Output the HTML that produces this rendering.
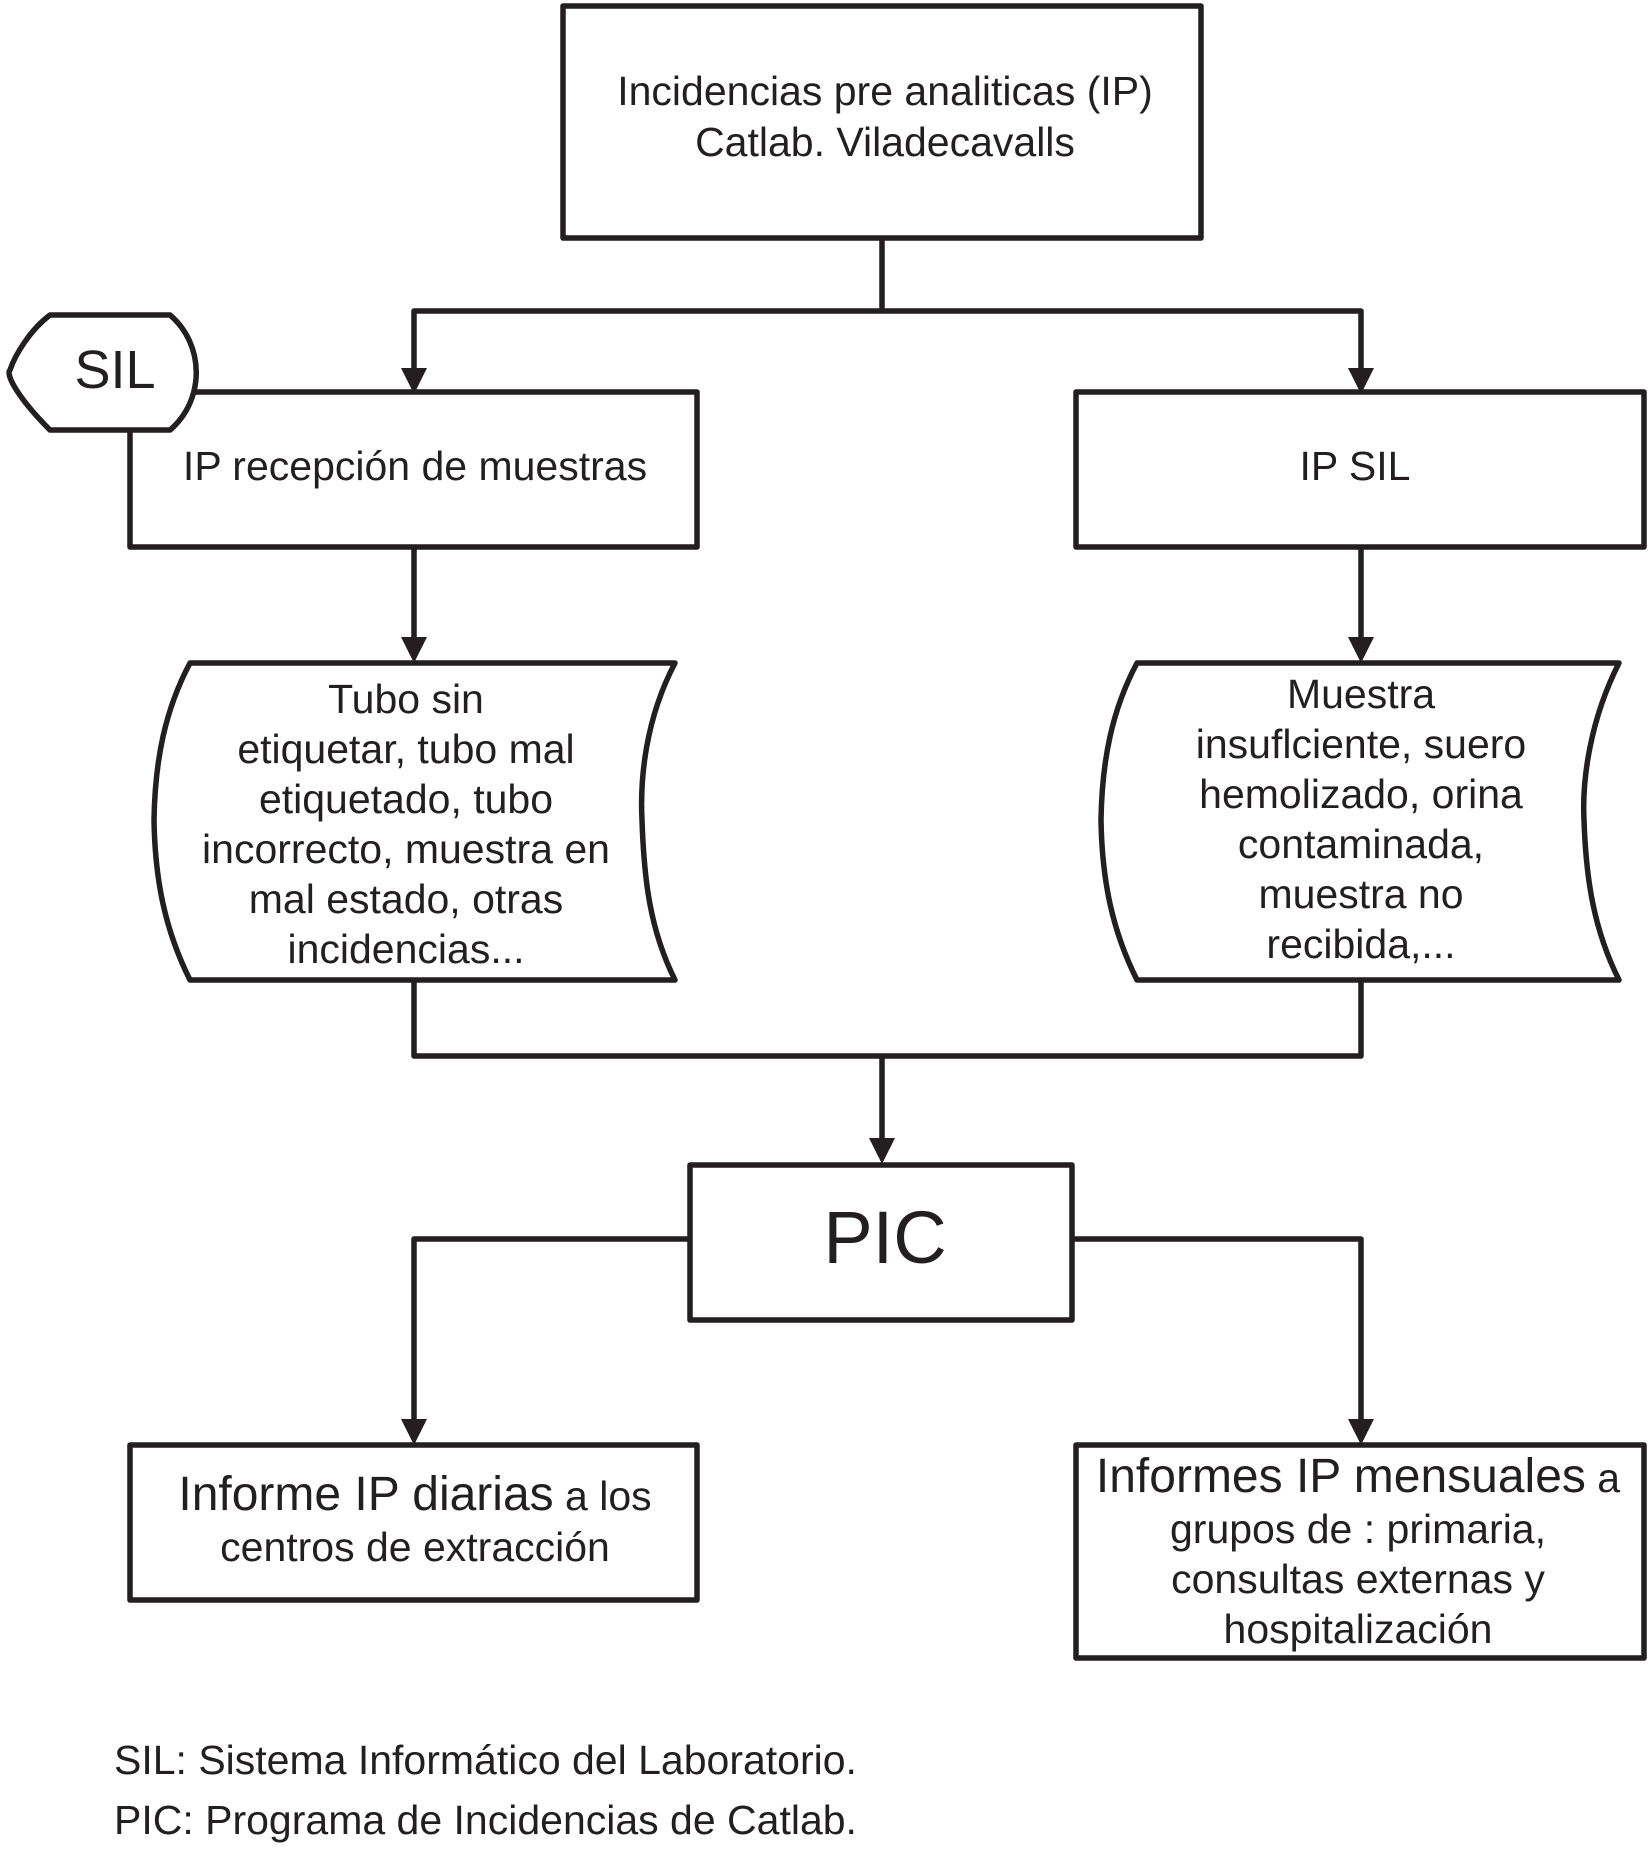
<!DOCTYPE html>
<html><head><meta charset="utf-8"><style>
html,body{margin:0;padding:0;background:#fff;}
svg{display:block;}
text{font-family:"Liberation Sans",Arial,sans-serif;fill:#231f20;}
</style></head><body>
<svg width="1650" height="1855" viewBox="0 0 1650 1855" xmlns="http://www.w3.org/2000/svg">
<g fill="none" stroke="#231f20" stroke-width="5.5" stroke-linejoin="round">
<rect x="563" y="6" width="638" height="232"/>
<rect x="130" y="392" width="567" height="155"/>
<rect x="1076" y="392" width="568" height="155"/>
<rect x="690" y="1165" width="382" height="155"/>
<rect x="130" y="1445" width="567" height="155"/>
<rect x="1076" y="1445" width="568" height="213"/>
<polyline points="882,238 882,311"/>
<polyline points="414,371 414,311 1361,311 1361,371"/>
<line x1="414" y1="547" x2="414" y2="640"/>
<line x1="1361" y1="547" x2="1361" y2="640"/>
<polyline points="414,980 414,1056 1361,1056 1361,980"/>
<line x1="882" y1="1056" x2="882" y2="1143"/>
<polyline points="690,1239 414,1239 414,1424"/>
<polyline points="1072,1239 1361,1239 1361,1424"/>
<path d="M190,663 L675,663 C645,720 640,780 642,820 C644,880 650,930 675,980 L190,980 C165,930 155,880 154,820 C155,760 165,710 190,663 Z"/>
<path d="M1137,663 L1619,663 C1590,720 1582,780 1584,820 C1586,880 1594,930 1619,980 L1137,980 C1112,930 1102,880 1101,820 C1102,760 1112,710 1137,663 Z"/>
<path d="M50,315 L170,315 C205,345 205,400 170,430 L50,430 C20,400 5,375 10,370 C15,355 30,330 50,315 Z" fill="#fff"/>
</g>
<g fill="#231f20">
<polygon points="401,368 427,368 414,394"/>
<polygon points="1348,368 1374,368 1361,394"/>
<polygon points="401,637 427,637 414,663"/>
<polygon points="1348,637 1374,637 1361,663"/>
<polygon points="869,1138 895,1138 882,1164"/>
<polygon points="401,1419 427,1419 414,1445"/>
<polygon points="1348,1419 1374,1419 1361,1445"/>
</g>
<g font-size="41" text-anchor="middle">
<text x="885" y="105">Incidencias pre analiticas (IP)</text>
<text x="885" y="156">Catlab. Viladecavalls</text>
<text x="115" y="388" font-size="54">SIL</text>
<text x="415" y="480">IP recepción de muestras</text>
<text x="1355" y="480">IP SIL</text>
<text x="406" y="713">Tubo sin</text>
<text x="406" y="763">etiquetar, tubo mal</text>
<text x="406" y="813">etiquetado, tubo</text>
<text x="406" y="863">incorrecto, muestra en</text>
<text x="406" y="913">mal estado, otras</text>
<text x="406" y="963">incidencias...</text>
<text x="1361" y="708">Muestra</text>
<text x="1361" y="758">insuflciente, suero</text>
<text x="1361" y="808">hemolizado, orina</text>
<text x="1361" y="858">contaminada,</text>
<text x="1361" y="908">muestra no</text>
<text x="1361" y="958">recibida,...</text>
<text x="885" y="1263" font-size="74">PIC</text>
<text x="415" y="1510"><tspan font-size="48">Informe IP diarias</tspan> a los</text>
<text x="415" y="1561">centros de extracción</text>
<text x="1358" y="1492"><tspan font-size="48">Informes IP mensuales</tspan> a</text>
<text x="1358" y="1543">grupos de : primaria,</text>
<text x="1358" y="1593">consultas externas y</text>
<text x="1358" y="1643">hospitalización</text>
</g>
<g font-size="41">
<text x="114" y="1774">SIL: Sistema Informático del Laboratorio.</text>
<text x="114" y="1834">PIC: Programa de Incidencias de Catlab.</text>
</g>
</svg>
</body></html>
